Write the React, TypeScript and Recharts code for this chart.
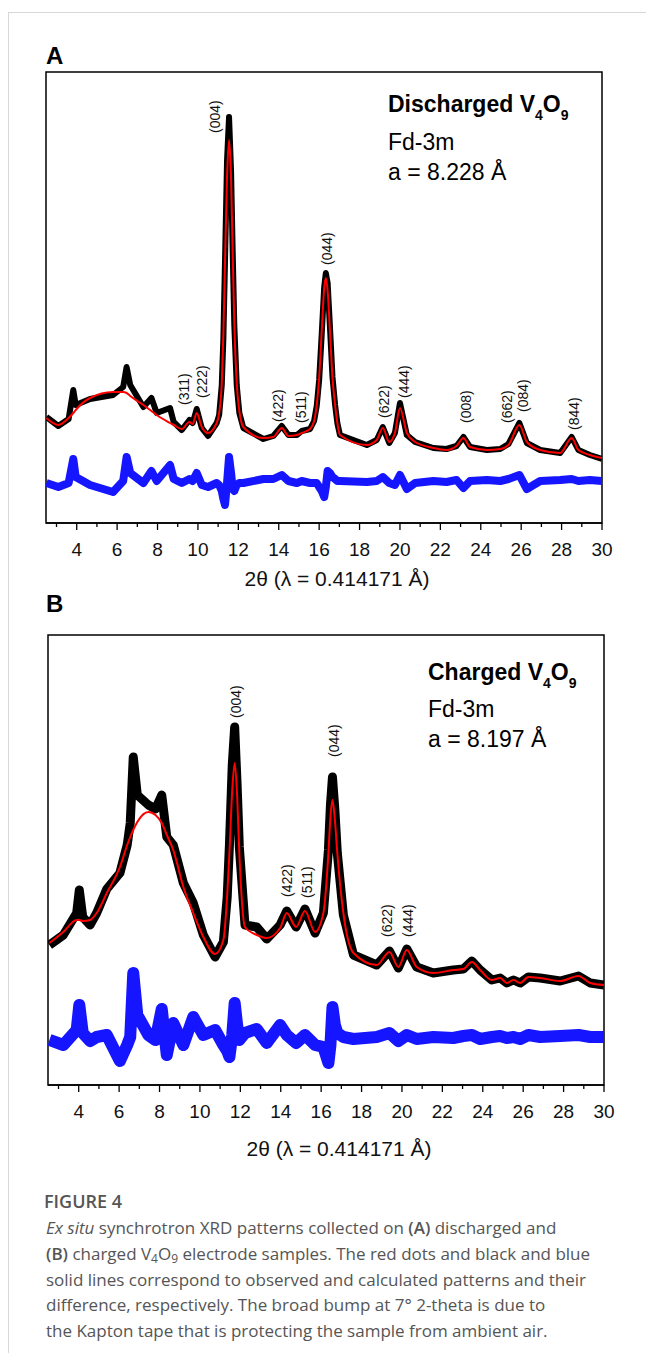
import React from 'react';
import { ComposedChart, Line, Scatter, XAxis, YAxis, ReferenceArea } from 'recharts';

// Panel A: discharged V4O9 (intensity in arbitrary units)
const thetaA = [
  2.5, 3.09, 3.6, 3.83, 3.95, 4.66, 5.8, 6.3, 6.47, 6.65, 7.3, 7.7, 7.96, 8.62, 8.8, 9.2, 9.58, 9.74, 9.94,
  10.19, 10.5, 10.93, 11.05, 11.18, 11.26, 11.34, 11.44, 11.54, 11.64, 11.72, 11.8, 11.92, 12.05, 12.25,
  13.24, 13.73, 14.15, 14.48, 14.9, 15.14, 15.55, 15.75, 15.88, 16.0, 16.13, 16.25, 16.33, 16.42, 16.54,
  16.66, 16.79, 16.9, 17.03, 18.36, 18.85, 19.15, 19.47, 19.75, 20.0, 20.34, 20.75, 21.65, 22.3, 22.8,
  23.14, 23.47, 24.3, 24.96, 25.37, 25.91, 26.28, 26.94, 27.93, 28.5, 28.83, 29.4, 30,
];
const observedA = [
  106, 97, 104, 133, 118, 124, 128, 136, 156, 138, 116, 125, 110, 115, 101, 93, 103, 100, 114,
  95, 87, 100, 108, 138, 185, 262, 362, 406, 352, 272, 198, 138, 110, 95,
  84, 87, 97, 88, 88, 92, 94, 102, 117, 143, 190, 236, 250, 240, 194,
  146, 118, 100, 88, 78, 83, 96, 80, 90, 120, 88, 81, 75, 74, 77,
  86, 76, 73, 74, 79, 100, 80, 73, 70, 86, 73, 68, 64,
];
const calculatedA = [
  105, 98, 105, 110, 113, 125, 131, 131, 130, 127, 118, 112, 108, 100, 98, 94, 101, 99, 110,
  96, 90, 100, 110, 140, 190, 260, 345, 383, 345, 270, 200, 140, 112, 96,
  85, 86, 95, 87, 88, 90, 94, 102, 118, 145, 193, 235, 245, 232, 190,
  145, 118, 100, 88, 78, 83, 95, 81, 90, 115, 90, 81, 75, 73, 77,
  85, 76, 73, 74, 78, 98, 81, 73, 70, 85, 73, 68, 65,
];
const differenceA = [
  40, 36, 40, 64, 46, 38, 31, 42, 66, 50, 40, 52, 42, 58, 44, 40, 44, 42, 50,
  38, 36, 40, 38, 32, 24, 18, 40, 66, 50, 34, 32, 38, 40, 40,
  44, 44, 48, 42, 40, 42, 40, 40, 40, 36, 32, 26, 36, 52, 50,
  46, 44, 42, 42, 41, 42, 46, 40, 38, 48, 34, 40, 42, 41, 43,
  35, 42, 43, 42, 44, 48, 34, 42, 43, 44, 42, 43, 42,
];
const hklA = ['(311)', '(222)', '(004)', '(422)', '(511)', '(044)', '(622)', '(444)', '(008)', '(662)', '(084)', '(844)'];
const hklThetaA = [9.31, 10.2, 10.85, 13.97, 15.1, 16.39, 19.21, 20.2, 23.27, 25.3, 26.1, 28.6];
const hklLevelA = [118, 125, 390, 101, 100, 258, 105, 125, 100, 100, 111, 93];

// Panel B: charged V4O9
const thetaB = [
  2.55, 3.24, 3.9, 4.03, 4.2, 4.56, 4.89, 5.39, 6.04, 6.4, 6.55, 6.7, 6.9, 7.45, 7.8, 8.11, 8.36, 8.68,
  9.18, 9.67, 10.17, 10.75, 11.16, 11.35, 11.46, 11.6, 11.72, 11.84, 11.95, 12.23, 12.81, 13.31, 13.97,
  14.3, 14.76, 15.2, 15.7, 16.11, 16.36, 16.46, 16.56, 16.68, 16.8, 17.1, 17.6, 18.75, 19.38, 19.82,
  20.24, 20.73, 21.55, 22.54, 23.04, 23.46, 23.87, 24.45, 24.86, 25.19, 25.52, 25.85, 26.26, 26.84,
  27.83, 28.74, 29.32, 30,
];
const observedB = [
  140, 150, 172, 195, 168, 160, 172, 196, 212, 240, 262, 328, 290, 280, 276, 290, 248, 240,
  202, 182, 150, 128, 143, 188, 240, 320, 358, 300, 238, 160, 158, 146, 160,
  174, 158, 176, 152, 172, 235, 280, 308, 275, 232, 170, 130, 120, 134, 117,
  136, 118, 112, 115, 116, 124, 115, 105, 107, 102, 105, 102, 108, 107,
  104, 109, 102, 100,
];
const calculatedB = [
  142, 153, 165, 165, 164, 165, 172, 192, 218, 240, 248, 255, 263, 273, 270, 262, 250, 235,
  198, 172, 148, 131, 145, 190, 232, 295, 322, 290, 232, 158, 150, 147, 157,
  172, 158, 174, 153, 172, 232, 268, 285, 265, 232, 172, 132, 120, 133, 118,
  135, 118, 112, 115, 116, 123, 115, 105, 107, 102, 105, 102, 108, 107,
  104, 109, 102, 100,
];
const differenceB = [
  45, 40, 55, 80, 52, 44, 48, 50, 24, 40, 48, 112, 70, 50, 45, 76, 30, 62,
  40, 68, 50, 55, 40, 34, 28, 50, 82, 60, 45, 52, 56, 42, 60,
  50, 42, 50, 40, 38, 22, 40, 78, 60, 52, 48, 46, 48, 52, 44,
  50, 46, 48, 47, 49, 50, 46, 48, 49, 47, 48, 46, 50, 48,
  49, 50, 48, 48,
];
const hklB = ['(004)', '(422)', '(511)', '(044)', '(622)', '(444)'];
const hklThetaB = [11.79, 14.3, 15.3, 16.64, 19.26, 20.3];
const hklLevelB = [367, 188, 187, 328, 148, 148];

const xTicks = Array.from({ length: 28 }, (_, i) => i + 3);
const FONT = '"Liberation Sans", Arial, sans-serif';

const AxisTick = ({ x, y, payload }: any) => {
  const major = payload.value % 2 === 0;
  return (
    <g>
      <line x1={x} x2={x} y1={y} y2={y + (major ? 7 : 4)} stroke="#000" strokeWidth={1.3} />
      {major && (
        <text x={x} y={y + 33} textAnchor="middle" fontSize={19} fontFamily={FONT} fill="#111">
          {payload.value}
        </text>
      )}
    </g>
  );
};

const PeakLabel = ({ cx, cy, payload }: any) => (
  <text
    transform={`translate(${cx},${cy}) rotate(-90)`}
    dy="0.35em"
    fontSize={14}
    fontFamily={FONT}
    fill="#111"
  >
    {payload.hkl}
  </text>
);

const XrdPanel = ({ theta, obs, calc, diff, hkl, hklTheta, hklLevel, yMax, obsWidth, diffWidth, margin }: any) => {
  const rows = theta.map((t: number, i: number) => ({ theta: t, obs: obs[i], calc: calc[i], diff: diff[i] }));
  const labels = hkl.map((h: string, i: number) => ({ theta: hklTheta[i], level: hklLevel[i], hkl: h }));
  return (
    <ComposedChart width={646} height={600} data={rows} margin={margin}>
      <XAxis
        dataKey="theta"
        type="number"
        domain={[2.48, 30]}
        allowDataOverflow
        ticks={xTicks}
        interval={0}
        tickSize={0}
        tickMargin={0}
        height={60}
        tick={<AxisTick />}
        axisLine={{ stroke: '#000', strokeWidth: 1.5 }}
      />
      <YAxis hide type="number" domain={[0, yMax]} allowDataOverflow />
      <ReferenceArea x1={2.48} x2={30} y1={0} y2={yMax} fill="none" stroke="#000" strokeWidth={1.5} ifOverflow="visible" />
      <Line dataKey="diff" type="linear" stroke="#1515ff" strokeWidth={diffWidth} strokeLinejoin="round" dot={false} isAnimationActive={false} />
      <Line dataKey="obs" type="linear" stroke="#000" strokeWidth={obsWidth} strokeLinejoin="round" dot={false} isAnimationActive={false} />
      <Line dataKey="calc" type="monotone" stroke="#ff0000" strokeWidth={2} dot={false} isAnimationActive={false} />
      <Scatter data={labels} dataKey="level" shape={PeakLabel} isAnimationActive={false} />
    </ComposedChart>
  );
};

const Formula = ({ x, y, name }: any) => (
  <text x={x} y={y} fontFamily={FONT} fontWeight="bold" fontSize={23} fill="#000">
    {name} V<tspan fontSize={14} dy={8}>4</tspan>
    <tspan dy={-8}>O</tspan>
    <tspan fontSize={14} dy={8}>9</tspan>
  </text>
);

const captionStyle = { fontFamily: '"Open Sans", "Noto Sans", sans-serif', fontSize: 17, fill: '#555' };

export default function App() {
  return (
    <div style={{ position: 'absolute', left: 0, top: 0, width: 646, height: 1353, background: '#fff' }}>
      <div style={{ position: 'absolute', left: 8, top: 12, width: 638, height: 1341, borderTop: '1px solid #d8d8d8', borderLeft: '1px solid #d8d8d8' }} />
      <div style={{ position: 'absolute', left: 0, top: 0 }}>
        <XrdPanel
          theta={thetaA} obs={observedA} calc={calculatedA} diff={differenceA}
          hkl={hklA} hklTheta={hklThetaA} hklLevel={hklLevelA}
          yMax={451} obsWidth={6} diffWidth={8}
          margin={{ top: 72, right: 44, bottom: 17, left: 46 }}
        />
      </div>
      <div style={{ position: 'absolute', left: 0, top: 560 }}>
        <XrdPanel
          theta={thetaB} obs={observedB} calc={calculatedB} diff={differenceB}
          hkl={hklB} hklTheta={hklThetaB} hklLevel={hklLevelB}
          yMax={450} obsWidth={9} diffWidth={12}
          margin={{ top: 75, right: 42, bottom: 15, left: 48 }}
        />
      </div>
      <svg width={646} height={1353} style={{ position: 'absolute', left: 0, top: 0, pointerEvents: 'none' }}>
        <text x={46} y={64} fontFamily={FONT} fontWeight="bold" fontSize={24} fill="#000">A</text>
        <text x={46} y={612} fontFamily={FONT} fontWeight="bold" fontSize={24} fill="#000">B</text>
        <Formula x={388} y={112} name="Discharged" />
        <text x={388} y={150} fontFamily={FONT} fontSize={23} fill="#000">Fd-3m</text>
        <text x={388} y={180} fontFamily={FONT} fontSize={23} fill="#000">a = 8.228 Å</text>
        <Formula x={428} y={680} name="Charged" />
        <text x={428} y={717} fontFamily={FONT} fontSize={23} fill="#000">Fd-3m</text>
        <text x={428} y={747} fontFamily={FONT} fontSize={23} fill="#000">a = 8.197 Å</text>
        <text x={337} y={586} textAnchor="middle" fontFamily={FONT} fontSize={21} fill="#111">2θ (λ = 0.414171 Å)</text>
        <text x={339} y={1156} textAnchor="middle" fontFamily={FONT} fontSize={21} fill="#111">2θ (λ = 0.414171 Å)</text>
        <text x={44} y={1208} style={{ ...captionStyle, fontSize: 18, fontWeight: 600 }}>FIGURE 4</text>
        <text x={46} y={1234} style={captionStyle}>
          <tspan fontStyle="italic">Ex situ</tspan> synchrotron XRD patterns collected on <tspan fontWeight={600}>(A)</tspan> discharged and
        </text>
        <text x={46} y={1260} style={captionStyle}>
          <tspan fontWeight={600}>(B)</tspan> charged V<tspan fontSize={12} dy={3}>4</tspan><tspan dy={-3}>O</tspan><tspan fontSize={12} dy={3}>9</tspan><tspan dy={-3}> electrode samples. The red dots and black and blue</tspan>
        </text>
        <text x={46} y={1286} style={captionStyle}>solid lines correspond to observed and calculated patterns and their</text>
        <text x={46} y={1311} style={captionStyle}>difference, respectively. The broad bump at 7° 2-theta is due to</text>
        <text x={46} y={1337} style={captionStyle}>the Kapton tape that is protecting the sample from ambient air.</text>
      </svg>
    </div>
  );
}
